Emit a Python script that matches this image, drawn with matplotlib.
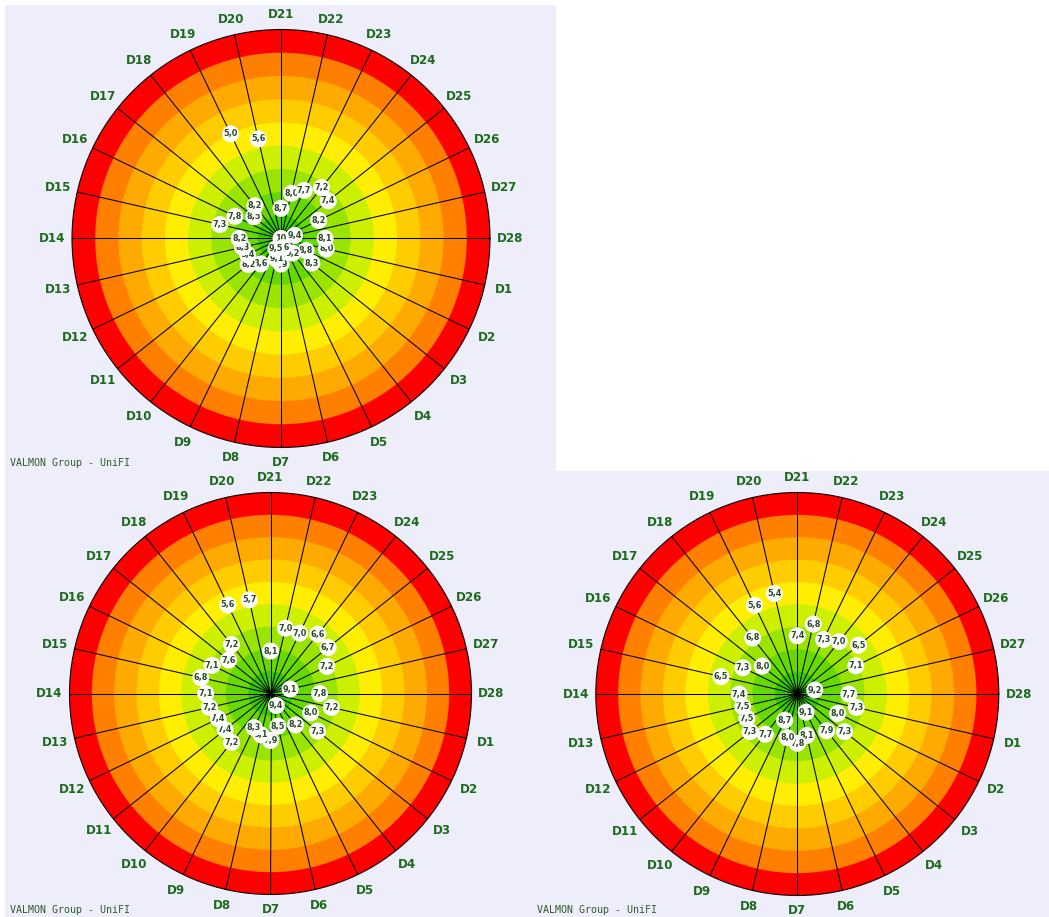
import numpy as np
import matplotlib
matplotlib.use("Agg")
import matplotlib.pyplot as plt
from matplotlib.patches import Rectangle

W, H, DPI = 1049, 917, 100

days = [f"D{i}" for i in range(1, 29)]

# values D1..D28 (scale 1..10, 10 at the centre)
values_top = [8.0, 8.8, 8.3, 9.2, 10.0, 9.6, 8.9, 9.1, 9.5, 8.6, 8.2, 8.4, 8.3, 8.2,
              7.3, 7.8, 8.5, 8.2, 5.0, 5.6, 8.7, 8.0, 7.7, 7.2, 7.4, 8.2, 9.4, 8.1]
values_bl = [7.2, 8.0, 7.3, 8.2, 9.4, 8.5, 7.9, 8.1, 8.3, 7.2, 7.4, 7.4, 7.2, 7.1,
             6.8, 7.1, 7.6, 7.2, 5.6, 5.7, 8.1, 7.0, 7.0, 6.6, 6.7, 7.2, 9.1, 7.8]
values_br = [7.3, 8.0, 7.3, 7.9, 9.1, 8.1, 7.8, 8.0, 8.7, 7.7, 7.3, 7.5, 7.5, 7.4,
             6.5, 7.3, 8.0, 6.8, 5.6, 5.4, 7.4, 6.8, 7.3, 7.0, 6.5, 7.1, 9.2, 7.7]

scale_min, scale_max = 1, 10
# ring colours from centre outwards
ring_colors = ["#33cc00", "#66d900", "#99e400", "#ccf000", "#ffee00",
               "#ffcc00", "#ffaa00", "#ff8000", "#ff0000"]
credit = "VALMON Group - UniFI"

label_color = "#1d6a1d"
point_text_color = "#2b4a2b"
bg = "#eeeefb"

fig = plt.figure(figsize=(W / DPI, H / DPI), dpi=DPI)
fig.patch.set_facecolor("white")


def px_rect(x0, y0, x1, y1, color):
    fig.patches.append(Rectangle((x0 / W, 1 - y1 / H), (x1 - x0) / W, (y1 - y0) / H,
                                 transform=fig.transFigure, facecolor=color,
                                 edgecolor="none", zorder=-10))


px_rect(5, 5, 556, 471, bg)
px_rect(5, 471, 1049, 917, bg)


def target(cx, cy, R, values):
    ax = fig.add_axes([(cx - R) / W, 1 - (cy + R) / H, 2 * R / W, 2 * R / H],
                      projection="polar")
    ax.set_facecolor("none")
    rmax = scale_max - scale_min
    n = len(days)
    thetas = [(n - (i + 1)) * 2 * np.pi / n for i in range(n)]
    # concentric rings (outer disk first)
    for i in range(len(ring_colors) - 1, -1, -1):
        ax.bar(0, i + 1, width=2 * np.pi, bottom=0, color=ring_colors[i],
               edgecolor="none", linewidth=0, zorder=1)
    for th in thetas:
        ax.plot([th, th], [0, rmax], color="black", lw=0.75, zorder=2)
    ax.set_ylim(0, rmax)
    ax.set_xticks([])
    ax.set_yticks([])
    ax.grid(False)
    ax.spines["polar"].set(linewidth=0.8, color="black")
    for th, d in zip(thetas, days):
        off = 15 + 5 * abs(np.cos(th))
        ax.annotate(d, xy=(th, rmax), xytext=(off * np.cos(th), off * np.sin(th)),
                    textcoords="offset pixels", ha="center", va="center",
                    fontsize=8.6, fontweight="bold", color=label_color,
                    annotation_clip=False)
    for k, (th, v) in enumerate(zip(thetas, values)):
        r = scale_max - v
        z = 5 + 2 * k
        ax.scatter([th], [r], s=150, color="white", edgecolors="none", zorder=z,
                   clip_on=False)
        txt = "10" if v == 10 else f"{v:.1f}".replace(".", ",")
        ax.text(th, r, txt, ha="center", va="center", fontsize=5.9,
                fontweight="bold", color=point_text_color, zorder=z + 1)
    return ax


target(281, 238.5, 209, values_top)
target(270.5, 693.5, 201, values_bl)
target(797.3, 694, 201.5, values_br)

for (x, y) in [(10, 463), (10, 910), (537, 910)]:
    fig.text(x / W, 1 - y / H, credit, fontsize=7.2, family="DejaVu Sans Mono",
             color="#2f5a2f", ha="left", va="center")

fig.savefig("out.png", dpi=DPI, facecolor=fig.get_facecolor())
